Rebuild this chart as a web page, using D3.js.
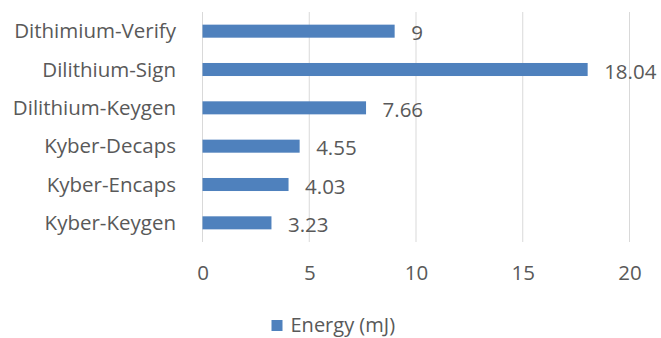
<!DOCTYPE html>
<html>
<head>
<meta charset="utf-8">
<script src="https://cdn.jsdelivr.net/npm/d3@7"></script>
<style>
    body { margin: 0; background: #fff; }
    text { font-family: "Open Sans", "Noto Sans", sans-serif; fill: #595959; }
</style>
</head>
<body>
<div id="chart"></div>
<script>
let categories = ['Dithimium-Verify', 'Dilithium-Sign', 'Dilithium-Keygen', 'Kyber-Decaps', 'Kyber-Encaps', 'Kyber-Keygen'];
let energy = [9, 18.04, 7.66, 4.55, 4.03, 3.23];
let xTicks = [0, 5, 10, 15, 20];
let seriesName = 'Energy (mJ)';

let width = 661;
let height = 338;

let margin = {
    top: 12,
    right: 31.5,
    bottom: 96,
    left: 202.5
}

let fontSize = 20.5;

let data = categories.map((c, i) => ({ name: c, value: energy[i] }));

let x = d3.scaleLinear()
        .domain([0, 20])
        .range([margin.left, width - margin.right]);

let y = d3.scaleBand()
        .domain(categories)
        .range([margin.top, height - margin.bottom])
        .paddingInner(0.66)
        .paddingOuter(0.33);

let chart = d3.select('#chart').append('svg')
        .attr('width', width)
        .attr('height', height);

// gridlines
chart.append('g')
    .selectAll('line')
    .data(xTicks)
    .join('line')
        .attr('x1', d => x(d))
        .attr('x2', d => x(d))
        .attr('y1', margin.top)
        .attr('y2', height - margin.bottom)
        .attr('stroke', '#d9d9d9')
        .attr('stroke-width', 1);

let bar = chart.selectAll('g.bar')
        .data(data)
        .join('g')
            .attr('class', 'bar')
            .attr('transform', d => `translate(0, ${y(d.name)})`);

bar.append('rect')
    .attr('fill', '#4f81bd')
    .attr('x', x(0))
    .attr('width', d => x(d.value) - x(0))
    .attr('height', y.bandwidth());

bar.append('text')
    .attr('x', d => x(d.value) + 16.5)
    .attr('y', y.bandwidth() / 2 + 2)
    .attr('dy', '0.35em')
    .attr('font-size', fontSize)
    .text(d => d.value);

// category axis labels
chart.append('g')
    .selectAll('text')
    .data(categories)
    .join('text')
        .attr('x', 176)
        .attr('y', d => y(d) + y.bandwidth() / 2)
        .attr('dy', '0.35em')
        .attr('text-anchor', 'end')
        .attr('font-size', fontSize)
        .text(d => d);

// value axis labels
let xAxis = chart.append('g')
        .attr('transform', `translate(0,${height - margin.bottom})`)
        .call(d3.axisBottom(x).tickValues(xTicks).tickSize(0).tickPadding(23));
xAxis.select('.domain').remove();
xAxis.selectAll('text')
    .attr('font-size', fontSize)
    .attr('font-family', null)
    .attr('fill', null);

// legend
let legend = chart.append('g')
        .attr('transform', `translate(271.5, 320)`);
legend.append('rect')
    .attr('width', 11)
    .attr('height', 11)
    .attr('fill', '#4f81bd');
legend.append('text')
    .attr('x', 19)
    .attr('y', 5)
    .attr('dy', '0.35em')
    .attr('font-size', 20)
    .text(seriesName);
</script>
</body>
</html>
